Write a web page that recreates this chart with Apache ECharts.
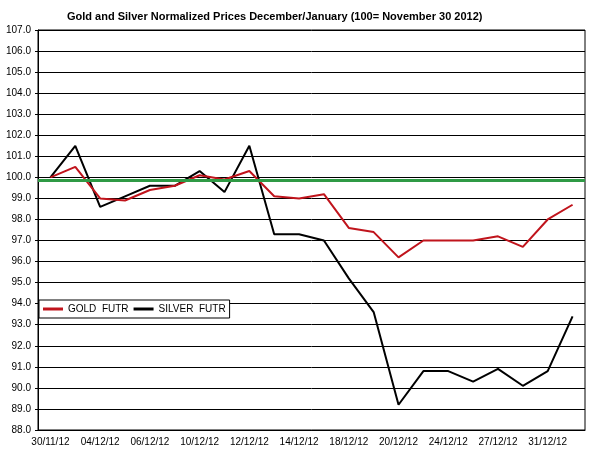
<!DOCTYPE html>
<html>
<head>
<meta charset="utf-8">
<script src="https://cdn.jsdelivr.net/npm/echarts@6/dist/echarts.min.js"></script>
<style>
  html, body { margin: 0; padding: 0; background: #fff; }
  #chart { width: 591px; height: 457px; }
</style>
</head>
<body>
<div id="chart"></div>
<script>
const dates = ['30/11/12', '03/12/12', '04/12/12', '05/12/12', '06/12/12', '07/12/12',
  '10/12/12', '11/12/12', '12/12/12', '13/12/12', '14/12/12', '17/12/12', '18/12/12',
  '19/12/12', '20/12/12', '21/12/12', '24/12/12', '26/12/12', '27/12/12', '28/12/12',
  '31/12/12', '02/01/13'];
const gold = [100.0, 100.5, 99.0, 98.9, 99.4, 99.6, 100.1, 99.9, 100.3, 99.1, 99.0,
  99.2, 97.6, 97.4, 96.2, 97.0, 97.0, 97.0, 97.2, 96.7, 98.0, 98.7];
const silver = [100.0, 101.5, 98.6, 99.1, 99.6, 99.6, 100.3, 99.3, 101.5, 97.3, 97.3,
  97.0, 95.2, 93.6, 89.2, 90.8, 90.8, 90.3, 90.9, 90.1, 90.8, 93.4];
const baseline = 99.87;

const chart = echarts.init(document.getElementById('chart'));

const option = {
  animation: false,
  title: {
    text: 'Gold and Silver Normalized Prices December/January (100= November 30 2012)',
    left: 67,
    top: 11,
    padding: 0,
    textStyle: { fontFamily: 'Arial', fontSize: 11, fontWeight: 'bold', color: '#000' }
  },
  grid: {
    left: 38, right: 6, top: 30, bottom: 27,
    show: true, borderColor: '#000', borderWidth: 1
  },
  legend: {
    left: 39, top: 300,
    padding: [4, 4, 4, 4],
    borderColor: '#000', borderWidth: 1,
    backgroundColor: '#fff',
    itemWidth: 20, itemHeight: 3, itemGap: 5,
    itemGap: 5,
    icon: 'rect',
    textStyle: { fontFamily: 'Arial', fontSize: 10, color: '#000' },
    data: ['GOLD  FUTR', 'SILVER  FUTR']
  },
  xAxis: {
    type: 'category',
    data: dates,
    boundaryGap: true,
    axisLine: { lineStyle: { color: '#000' } },
    axisTick: { interval: 0, length: 4, lineStyle: { color: '#000' } },
    axisLabel: { interval: 1, fontFamily: 'Arial', fontSize: 10, color: '#000', margin: 7 }
  },
  yAxis: {
    type: 'value',
    min: 88, max: 107, interval: 1,
    axisLine: { show: true, lineStyle: { color: '#000' } },
    axisTick: { show: true, length: 3, lineStyle: { color: '#000' } },
    splitLine: { lineStyle: { color: '#000', width: 1 } },
    axisLabel: {
      fontFamily: 'Arial', fontSize: 10, color: '#000', margin: 7,
      formatter: (v) => v.toFixed(1)
    }
  },
  series: [
    {
      name: 'GOLD  FUTR',
      type: 'line',
      data: gold,
      showSymbol: false,
      lineStyle: { color: '#c0141c', width: 2 },
      itemStyle: { color: '#c0141c' },
      z: 3,
      markLine: {
        silent: true,
        symbol: 'none',
        label: { show: false },
        lineStyle: { color: '#2f9a45', width: 3, type: 'solid' },
        data: [{ yAxis: baseline }],
        z: 4
      }
    },
    {
      name: 'SILVER  FUTR',
      type: 'line',
      data: silver,
      showSymbol: false,
      lineStyle: { color: '#000', width: 2 },
      itemStyle: { color: '#000' },
      z: 2
    }
  ]
};

option && chart.setOption(option);
</script>
</body>
</html>
